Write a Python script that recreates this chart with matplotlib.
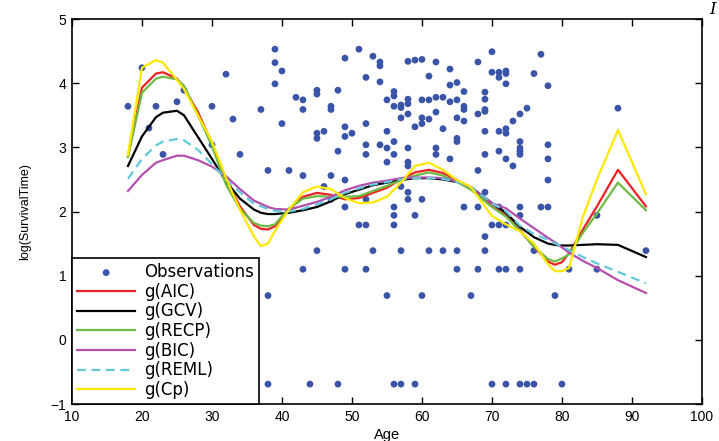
import numpy as np
import matplotlib
matplotlib.use("Agg")
import matplotlib.pyplot as plt

plt.rcParams['font.family'] = ['Liberation Sans', 'DejaVu Sans']

# observations (age, log survival time)
obs_age = [18, 20, 21, 22, 23, 25, 26, 30, 30, 32, 33, 34, 37, 38, 39, 39, 39, 40, 40, 41,
           42, 43, 43, 43, 45, 45, 45, 45, 46, 46, 47, 47, 47, 47, 48, 48, 49, 49, 49, 49,
           49, 50, 51, 52, 52, 52, 52,
           53, 54, 54, 58, 59, 60, 62, 64, 68, 54, 61, 64, 65, 66, 56, 56, 55, 58, 58, 56,
           57, 57, 60, 61, 62, 63, 64, 65, 66, 66, 68, 62, 58, 57, 60, 61, 60, 59, 63, 65,
           66, 55, 54, 56, 55, 58, 62, 65, 65, 56, 62, 64, 55, 58, 58, 68,
           70, 70, 71, 72, 72, 71, 72, 76, 77, 78, 69, 69, 69, 69, 75, 74, 73, 69, 71, 72,
           72, 74, 74, 74, 74, 78, 78, 78, 72, 73, 71, 69, 88,
           52, 56, 58, 58, 60, 57, 59, 56, 66, 68, 69, 74, 77, 78, 85, 71,
           74, 70, 71, 72, 69, 69, 76, 68, 71, 72, 74, 81, 67, 79,
           51, 52, 56, 53, 57, 61, 63, 65, 92, 52, 65, 85, 55, 60,
           56, 57, 59, 70, 72, 74, 75, 76, 80,
           45, 43, 49, 38, 38, 44, 48]
obs_val = [3.64, 4.24, 3.30, 3.64, 2.89, 3.71, 3.89, 3.04, 3.64, 4.14, 3.44, 2.89, 3.59, 2.64,
           4.53, 4.32, 3.99, 4.19, 3.37, 2.64, 3.78, 3.74, 3.59, 2.56, 3.89, 3.83, 3.22, 3.14,
           3.25, 2.39, 3.64, 3.59, 2.56, 2.19, 3.89, 2.94, 4.39, 3.32, 3.17, 2.49, 2.07, 3.22,
           4.53, 4.09, 3.37, 3.04, 2.89,
           4.42, 4.33, 4.27, 4.34, 4.36, 4.37, 4.33, 4.22, 4.33, 4.02, 4.11, 3.97, 4.01, 3.87,
           3.87, 3.80, 3.74, 3.75, 3.68, 3.64, 3.66, 3.62, 3.74, 3.74, 3.78, 3.78, 3.71, 3.74,
           3.64, 3.59, 3.52, 3.55, 3.52, 3.46, 3.46, 3.44, 3.37, 3.32, 3.29, 3.46, 3.41, 3.25,
           3.04, 3.09, 2.99, 2.99, 2.99, 3.14, 3.09, 2.89, 2.89, 2.82, 2.77, 2.77, 2.71, 2.64,
           4.49, 4.17, 4.17, 4.19, 4.15, 4.09, 3.99, 4.15, 4.45, 3.96, 3.86, 3.75, 3.59, 3.56,
           3.61, 3.52, 3.41, 3.25, 3.25, 3.29, 3.22, 3.09, 2.99, 2.94, 2.89, 3.04, 2.82, 2.49,
           2.82, 2.71, 2.94, 2.89, 3.61,
           2.19, 2.07, 2.30, 2.19, 2.19, 2.39, 1.94, 1.94, 2.07, 2.07, 2.30, 2.07, 2.07, 2.07,
           1.94, 2.07,
           1.94, 1.79, 1.79, 1.79, 1.61, 1.39, 1.39, 1.10, 1.10, 1.10, 1.10, 1.10, 0.69, 0.69,
           1.79, 1.79, 1.79, 1.39, 1.39, 1.39, 1.39, 1.39, 1.39, 1.10, 1.10, 1.10, 0.69, 0.69,
           -0.69, -0.69, -0.69, -0.69, -0.69, -0.69, -0.69, -0.69, -0.69,
           1.39, 1.10, 1.10, 0.69, -0.69, -0.69, -0.69]

# fitted curves
fit_age = [18, 20, 22, 23, 25, 26, 28, 30, 32, 34, 36, 37, 38, 39, 41, 43, 45, 47, 49, 51,
           53, 55, 57, 59, 61, 63, 65, 67, 70, 72, 74, 76, 78, 79, 80, 81, 83, 85, 88, 92]
g_aic = [2.86, 3.93, 4.15, 4.17, 4.07, 3.93, 3.55, 3.06, 2.50, 2.08, 1.79, 1.73, 1.72, 1.77,
         2.03, 2.23, 2.29, 2.26, 2.19, 2.21, 2.29, 2.37, 2.50, 2.61, 2.65, 2.60, 2.49, 2.36,
         2.08, 1.94, 1.71, 1.45, 1.22, 1.17, 1.21, 1.35, 1.72, 2.08, 2.65, 2.08]
g_gcv = [2.71, 3.17, 3.47, 3.54, 3.57, 3.50, 3.16, 2.82, 2.47, 2.20, 2.03, 1.98, 1.96, 1.96,
         1.98, 2.02, 2.07, 2.16, 2.27, 2.34, 2.41, 2.45, 2.49, 2.52, 2.52, 2.50, 2.46, 2.38,
         2.13, 1.98, 1.76, 1.60, 1.50, 1.48, 1.47, 1.47, 1.48, 1.49, 1.48, 1.29]
g_recp = [2.85, 3.85, 4.07, 4.10, 4.06, 3.96, 3.50, 3.02, 2.42, 2.04, 1.82, 1.78, 1.77, 1.80,
          2.05, 2.20, 2.24, 2.23, 2.23, 2.24, 2.32, 2.40, 2.49, 2.56, 2.61, 2.56, 2.46, 2.34,
          2.07, 1.92, 1.70, 1.45, 1.26, 1.22, 1.27, 1.33, 1.67, 1.97, 2.45, 2.02]
g_bic = [2.32, 2.57, 2.76, 2.80, 2.87, 2.87, 2.80, 2.70, 2.55, 2.35, 2.17, 2.12, 2.07, 2.04,
         2.03, 2.09, 2.15, 2.23, 2.33, 2.40, 2.45, 2.48, 2.52, 2.53, 2.53, 2.52, 2.47, 2.38,
         2.13, 2.05, 1.89, 1.74, 1.59, 1.52, 1.44, 1.36, 1.23, 1.12, 0.93, 0.73]
g_reml = [2.51, 2.82, 3.03, 3.09, 3.13, 3.11, 2.96, 2.74, 2.50, 2.30, 2.12, 2.08, 2.04, 2.01,
          2.00, 2.04, 2.11, 2.19, 2.29, 2.36, 2.42, 2.46, 2.50, 2.52, 2.52, 2.51, 2.46, 2.38,
          2.13, 2.00, 1.78, 1.65, 1.56, 1.50, 1.46, 1.40, 1.29, 1.19, 1.06, 0.88]
g_cp = [2.88, 4.24, 4.36, 4.32, 4.05, 3.91, 3.50, 3.09, 2.52, 2.03, 1.61, 1.46, 1.50, 1.70,
        2.03, 2.30, 2.39, 2.35, 2.21, 2.13, 2.14, 2.23, 2.45, 2.71, 2.76, 2.65, 2.49, 2.38,
        1.93, 1.80, 1.69, 1.50, 1.18, 1.07, 1.07, 1.12, 1.92, 2.50, 3.27, 2.27]

fig = plt.figure(figsize=(7.19, 4.41), dpi=100)
ax = fig.add_axes([0.1001, 0.0839, 0.8762, 0.873])

ax.scatter(obs_age, obs_val, s=24, color='#3A55A8', edgecolors='none', label='Observations', zorder=2)
ax.plot(fit_age, g_aic, color='#EE2222', lw=1.6, label='g(AIC)', zorder=3)
ax.plot(fit_age, g_gcv, color='black', lw=1.6, label='g(GCV)', zorder=3)
ax.plot(fit_age, g_recp, color='#6DBB45', lw=1.6, label='g(RECP)', zorder=3)
ax.plot(fit_age, g_bic, color='#B44FAE', lw=1.6, label='g(BIC)', zorder=3)
ax.plot(fit_age, g_reml, color='#62C8DA', lw=1.6, ls=(0, (4, 2.5)), label='g(REML)', zorder=3)
ax.plot(fit_age, g_cp, color='#FFE800', lw=1.6, label='g(Cp)', zorder=4)

ax.set_xlim(10, 100)
ax.set_ylim(-1, 5)
ax.set_xticks(range(10, 101, 10))
ax.set_yticks(range(-1, 6))
ax.tick_params(direction='in', top=True, right=True, length=5, width=1, labelsize=10, pad=4)
for sp in ax.spines.values():
    sp.set_linewidth(1.2)

ax.set_xlabel('Age', fontsize=10.5, labelpad=3)
ax.set_ylabel('log(SurvivalTime)', fontsize=9, labelpad=14)

leg = ax.legend(loc='lower left', bbox_to_anchor=(0, 0), borderaxespad=0,
                prop={'family': 'DejaVu Sans', 'size': 12},
                frameon=True, fancybox=False, edgecolor='black', framealpha=1,
                handlelength=3.5, handletextpad=0.55, labelspacing=0.1, borderpad=0.3,
                scatterpoints=1)
leg.get_frame().set_linewidth(1.2)

fig.text(0.987, 0.997, 'I', fontsize=12, style='italic', family='DejaVu Serif', ha='left', va='top')

fig.savefig('out.png', dpi=100)
